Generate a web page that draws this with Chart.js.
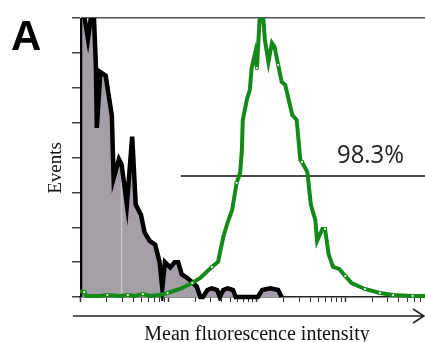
<!DOCTYPE html>
<html>
<head>
<meta charset="utf-8">
<script src="https://cdn.jsdelivr.net/npm/chart.js@4"></script>
<style>
  body { margin: 0; background: #fff; }
</style>
</head>
<body>
<canvas id="histo" width="425" height="342"></canvas>
<script>
// x values are log10 intensity (decades), y values are event counts

// isotype control (gray histogram)
const controlX = [0.00, 0.00, 0.02, 0.09, 0.15, 0.18, 0.19, 0.23, 0.29, 0.36, 0.38, 0.44, 0.47, 0.53, 0.59, 0.63,
    0.69, 0.73, 0.79, 0.85, 0.88, 0.90, 0.93, 0.96, 1.02, 1.07, 1.11, 1.15, 1.21, 1.28, 1.32, 1.36, 1.39,
    1.44, 1.49, 1.55, 1.58, 1.62, 1.67, 1.73, 1.76, 2.01, 2.06, 2.15, 2.24, 2.28];
const controlY = [0, 170, 170, 148, 170, 132, 97, 129, 127, 104, 68, 79, 76, 53, 92, 53,
    47, 37, 32, 30, 24, 20, 5, 20, 17, 20, 20, 13, 11, 8, 6, 0, 0,
    4, 5, 4, 0, 4, 5, 4, 0, 0, 4, 5, 4, 0];

// stained sample (green line)
const sampleX = [0.00, 0.05, 0.07, 0.23, 0.31, 0.45, 0.54, 0.62, 0.71, 0.79, 0.90, 0.99, 1.13, 1.27, 1.36,
    1.49, 1.56, 1.62, 1.67, 1.72, 1.77, 1.81, 1.83, 1.84, 1.89, 1.92, 1.94, 1.98, 2.00, 2.03, 2.07,
    2.09, 2.13, 2.17, 2.20, 2.24, 2.28, 2.32, 2.40, 2.45, 2.49, 2.51, 2.57, 2.61, 2.66, 2.68, 2.74,
    2.77, 2.81, 2.86, 2.93, 3.00, 3.07, 3.22, 3.39, 3.54, 3.76, 3.90];
const sampleY = [3.4, 2.9, 0.6, 0.6, 1.1, 0.6, 1.1, 0.6, 1.7, 0.6, 1.1, 2.3, 4.6, 8.0, 10.9,
    17.2, 20.1, 34.4, 43.0, 49.9, 65.4, 71.1, 84.3, 101.5, 114.1, 118.7, 131.3, 139.9, 131.3, 158.9, 161.2,
    147.4, 134.8, 145.7, 143.4, 133.1, 123.3, 121.6, 104.4, 101.5, 78.6, 77.4, 71.7, 52.8, 44.2, 32.1, 39.0,
    39.0, 24.7, 17.2, 16.1, 12.0, 8.0, 4.6, 2.3, 1.1, 0.6, 0.6];
const sampleMarks = [1, 4, 6, 8, 11, 13, 15, 20, 28, 35, 41, 47, 51, 53, 54, 55, 56];

// gate for positive events
const gateX = [1.14, 3.90];
const gateY = [69.4, 69.4];
const gateLabel = '98.3%';

// faint line inside the control histogram
const faintX = [0.47, 0.47];
const faintY = [0, 72];

const xMax = 3.9;
const yMax = 160;
const yStep = 20;

const pts = (xs, ys) => xs.map((x, i) => ({ x: x, y: ys[i] }));

const GREEN = '#14891a';

const extras = {
    id: 'extras',
    afterDraw(chart) {
        const ctx = chart.ctx;
        ctx.save();
        ctx.fillStyle = '#000';
        ctx.textBaseline = 'alphabetic';

        ctx.font = 'bold 42px "Liberation Sans"';
        ctx.textAlign = 'left';
        ctx.fillText('A', 11, 50);

        ctx.font = '25px "Open Sans"';
        ctx.fillStyle = '#222';
        ctx.fillText(gateLabel, 337, 163, 67);

        ctx.fillStyle = '#111';
        ctx.font = '20px "Liberation Serif"';
        ctx.textAlign = 'center';
        ctx.fillText('Mean fluorescence intensity', 257, 340, 232);

        ctx.save();
        ctx.translate(61, 168);
        ctx.rotate(-Math.PI / 2);
        ctx.font = '19px "Liberation Serif"';
        ctx.fillText('Events', 0, 0);
        ctx.restore();

        // arrow under the x axis
        ctx.strokeStyle = '#222';
        ctx.lineWidth = 1.5;
        ctx.beginPath();
        ctx.moveTo(73, 316);
        ctx.lineTo(423, 316);
        ctx.moveTo(413, 309);
        ctx.lineTo(424, 316);
        ctx.lineTo(413, 323);
        ctx.stroke();
        ctx.restore();
    }
};

const config = {
    type: 'line',
    data: {
        datasets: [
            {
                label: 'Sample',
                data: pts(sampleX, sampleY),
                borderColor: GREEN,
                borderWidth: 4,
                pointStyle: 'rect',
                pointRadius: c => sampleMarks.includes(c.dataIndex) ? 2 : 0,
                pointBackgroundColor: '#fff',
                pointBorderColor: GREEN,
                pointBorderWidth: 1,
                fill: false,
                clip: { left: 0, top: 0, right: 0, bottom: 4 }
            },
            {
                label: 'Gate',
                data: pts(gateX, gateY),
                borderColor: '#111',
                borderWidth: 1.5,
                pointRadius: 0,
                fill: false
            },
            {
                label: 'Control',
                data: pts(controlX, controlY),
                borderColor: '#000',
                borderWidth: 4.5,
                pointRadius: 0,
                fill: false,
                clip: { left: 0, top: 0, right: 0, bottom: 4 }
            },
            {
                label: 'faint',
                data: pts(faintX, faintY),
                borderColor: '#cac6cc',
                borderWidth: 1.5,
                pointRadius: 0,
                fill: false
            },
            {
                label: 'Control fill',
                data: pts(controlX, controlY),
                borderWidth: 0,
                borderColor: 'rgba(0,0,0,0)',
                backgroundColor: '#a49ea7',
                pointRadius: 0,
                fill: 'origin',
                clip: 0
            }
        ]
    },
    options: {
        responsive: false,
        animation: false,
        devicePixelRatio: 1,
        layout: { padding: { top: 18, left: 0, right: 0, bottom: 0 } },
        plugins: { legend: { display: false }, tooltip: { enabled: false } },
        scales: {
            x: {
                type: 'linear',
                min: 0,
                max: xMax,
                afterFit: s => { s.height = 45; },
                afterBuildTicks: s => {
                    const t = [];
                    for (let d = 0; d < 4; d++) {
                        for (let m = 1; m < 10; m++) {
                            const v = d + Math.log10(m);
                            if (v <= xMax) t.push({ value: v, major: m === 1 });
                        }
                    }
                    s.ticks = t;
                },
                ticks: { display: false },
                border: { display: true, color: '#222', width: 1.5 },
                grid: {
                    drawOnChartArea: false,
                    drawTicks: true,
                    tickLength: 5,
                    tickWidth: c => (c.tick && c.tick.major) ? 1.5 : 1,
                    tickColor: '#333'
                }
            },
            y: {
                type: 'linear',
                min: 0,
                max: yMax,
                afterFit: s => { s.width = 80; },
                ticks: { display: false, stepSize: yStep },
                border: { display: true, color: '#333', width: 1 },
                grid: {
                    drawOnChartArea: true,
                    drawTicks: true,
                    tickLength: 8,
                    tickColor: '#444',
                    lineWidth: 1.5,
                    color: c => (c.tick && c.tick.value === yMax) ? '#555' : 'rgba(0,0,0,0)'
                }
            }
        }
    },
    plugins: [extras]
};

const histo = new Chart(document.getElementById('histo'), config);
</script>
</body>
</html>
